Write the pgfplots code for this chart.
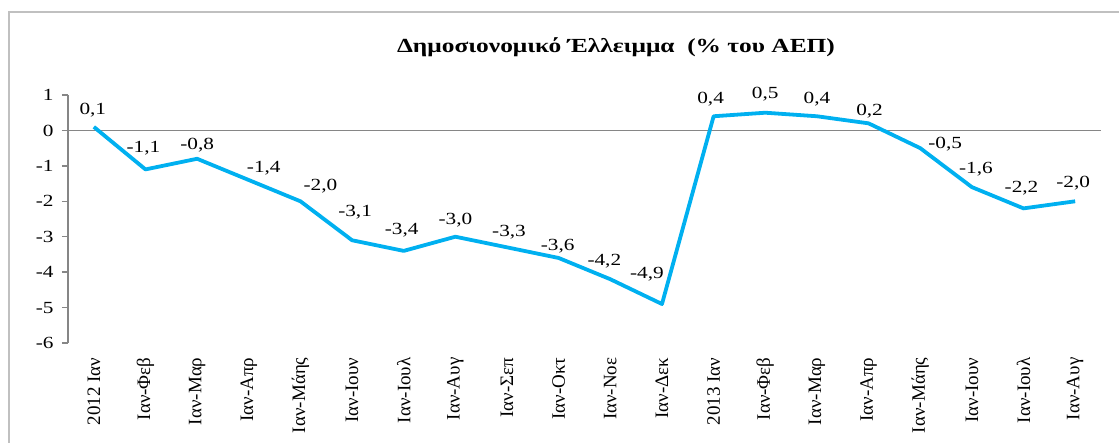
\documentclass[border=0pt]{standalone}
\usepackage{fontspec}
\setmainfont{Liberation Serif}
\newfontfamily\numfont[FakeStretch=1.25]{Liberation Serif}
\newfontfamily\titlefont[FakeStretch=1.27]{Liberation Serif}
\usepackage{pgfplots}
\usepackage{pgfplotstable}
\pgfplotsset{compat=1.18}
\definecolor{lineblue}{HTML}{00B0F0}
\definecolor{axgray}{HTML}{868686}
\definecolor{framegray}{HTML}{C0C0C0}
% x = month index, y = deficit (% of GDP), dx/dy = label offset in pt
\pgfplotstableread{
x y dx dy
0 0.1 -1 17
1 -1.1 -2 21
2 -0.8 0 14
3 -1.4 15 12
4 -2.0 20 15
5 -3.1 3 28
6 -3.4 -2 21
7 -3.0 0 17
8 -3.3 2 15
9 -3.6 -1 12
10 -4.2 -6 18
11 -4.9 -15 30
12 0.4 -3 17
13 0.5 0 19
14 0.4 0 17
15 0.2 1 12
16 -0.5 25 4
17 -1.6 4 18
18 -2.2 -2 20
19 -2.0 -2 18
}\deficit
\begin{document}
\begin{tikzpicture}[x=1pt,y=1pt]
\begin{axis}[
  at={(0,0)}, anchor=south west,
  scale only axis, width=1033pt, height=248pt,
  xmin=-0.5, xmax=19.5, ymin=-6, ymax=1,
  clip=false,
  axis y line*=left, axis x line*=bottom,
  x axis line style={draw=none},
  y axis line style={axgray, line width=1.3pt},
  xtick={0,...,19},
  xticklabels={2012 Ιαν, Ιαν-Φεβ, Ιαν-Μαρ, Ιαν-Απρ, Ιαν-Μάης, Ιαν-Ιουν, Ιαν-Ιουλ, Ιαν-Αυγ, Ιαν-Σεπ, Ιαν-Οκτ, Ιαν-Νοε, Ιαν-Δεκ, 2013 Ιαν, Ιαν-Φεβ, Ιαν-Μαρ, Ιαν-Απρ, Ιαν-Μάης, Ιαν-Ιουν, Ιαν-Ιουλ, Ιαν-Αυγ},
  xtick style={draw=none},
  xticklabel style={rotate=90, anchor=east, font=\fontsize{19}{19}\selectfont},
  xticklabel shift=5pt,
  ytick={-6,-5,...,1},
  ytick style={axgray, line width=1.3pt},
  tick align=outside, major tick length=6pt,
  yticklabel style={font=\numfont\fontsize{17}{17}\selectfont, xshift=-5pt},
  /pgf/number format/assume math mode=true,
]
\addplot[axgray, line width=1.3pt, forget plot] coordinates {(-0.5,0) (19.5,0)};
\addplot[lineblue, line width=3.8pt, line join=round, mark=none,
  point meta=\thisrow{y},
  visualization depends on={\thisrow{dx}\as\labeldx},
  visualization depends on={\thisrow{dy}\as\labeldy},
  nodes near coords={\pgfmathprintnumber[fixed,fixed zerofill,precision=1,use comma]{\pgfplotspointmeta}},
  every node near coord/.append style={font=\numfont\fontsize{17}{17}\selectfont, text=black, anchor=center, xshift=\labeldx pt, yshift=\labeldy pt},
] table[x=x, y=y] {\deficit};
\end{axis}
\node[font=\titlefont\bfseries\fontsize{20}{20}\selectfont] at (548,296) {Δημοσιονομικό Έλλειμμα \ (\% του ΑΕΠ)};
\draw[framegray, line width=1.5pt] (-59,-130) -- (-59,331) -- (1100,331);
\pgfresetboundingbox
\path[use as bounding box] (-68,-99) rectangle (1051,343);
\end{tikzpicture}
\end{document}
